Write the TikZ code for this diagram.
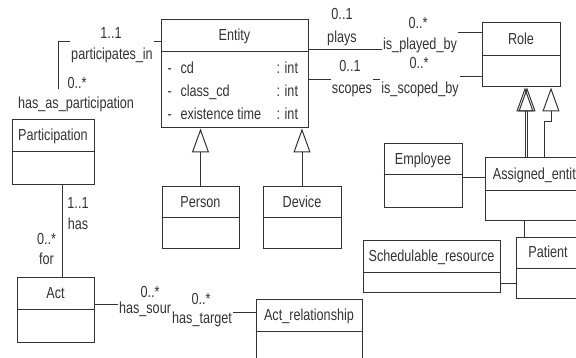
\documentclass[tikz,border=0pt]{standalone}
\usepackage{fontspec}
\setmainfont{Liberation Sans}[FakeStretch=0.79]
\usetikzlibrary{arrows.meta}

\begin{document}
\begin{tikzpicture}[x=1pt, y=-1pt, color=black!80, line width=1pt,
    every node/.style={font=\fontsize{16}{18}\selectfont, text height=12pt, text depth=3.5pt},
    cls/.style={draw, inner sep=0pt},
    title/.style={inner sep=0pt},
    attr/.style={anchor=west, inner sep=0pt},
    mult/.style={inner sep=1pt},
    rolename/.style={fill=white, inner xsep=1pt, inner ysep=7pt},
    gen/.style={-{Triangle[open, length=24pt, width=17pt]}}]
    \useasboundingbox (0,0) rectangle (576,358);
    \clip (0,0) rectangle (576,358);

    % Classes
    \node[cls, minimum width=147, minimum height=108] (entity) at (234.5,74) {};
    \node[cls, minimum width=82, minimum height=65] (participation) at (53,152.5) {};
    \node[cls, minimum width=77, minimum height=62] (person) at (200.5,218) {};
    \node[cls, minimum width=78, minimum height=62] (device) at (302,218) {};
    \node[cls, minimum width=77, minimum height=64] (act) at (55.5,310) {};
    \node[cls, minimum width=106, minimum height=66] (actrel) at (309,333) {};
    \node[cls, minimum width=78, minimum height=64] (role) at (521,55) {};
    \node[cls, minimum width=78, minimum height=64] (employee) at (423,176) {};
    \node[cls, minimum width=105, minimum height=63] (assigned) at (537.5,189.5) {};
    \node[cls, minimum width=64, minimum height=61] (patient) at (548,268.5) {};
    \node[cls, minimum width=137, minimum height=52] (schedres) at (431.5,267) {};

    % Dividers
    \draw ([yshift=-32]entity.north west) -- ([yshift=-32]entity.north east);
    \draw ([yshift=-32]participation.north west) -- ([yshift=-32]participation.north east);
    \draw ([yshift=-31]person.north west) -- ([yshift=-31]person.north east);
    \draw ([yshift=-31]device.north west) -- ([yshift=-31]device.north east);
    \draw ([yshift=-32]act.north west) -- ([yshift=-32]act.north east);
    \draw ([yshift=-32]actrel.north west) -- ([yshift=-32]actrel.north east);
    \draw ([yshift=-33]role.north west) -- ([yshift=-33]role.north east);
    \draw ([yshift=-31]employee.north west) -- ([yshift=-31]employee.north east);
    \draw ([yshift=-33]assigned.north west) -- ([yshift=-33]assigned.north east);
    \draw ([yshift=-31]patient.north west) -- ([yshift=-31]patient.north east);
    \draw ([yshift=-32]schedres.north west) -- ([yshift=-32]schedres.north east);

    % Titles
    \node[title] (entitytitle) at ([yshift=-17]entity.north) {Entity};
    \node[title] (participationtitle) at ([yshift=-17]participation.north) {Participation};
    \node[title] (persontitle) at ([yshift=-16.5]person.north) {Person};
    \node[title] (devicetitle) at ([yshift=-16.5]device.north) {Device};
    \node[title] (acttitle) at ([yshift=-17]act.north) {Act};
    \node[title] (actreltitle) at ([yshift=-17]actrel.north) {Act\_relationship};
    \node[title] (roletitle) at ([yshift=-17.5]role.north) {Role};
    \node[title] (employeetitle) at ([yshift=-16.5]employee.north) {Employee};
    \node[title] (assignedtitle) at ([yshift=-17.5]assigned.north) {Assigned\_entity};
    \node[title] (patienttitle) at ([yshift=-15.5]patient.north) {Patient};
    \node[title] (schedrestitle) at ([yshift=-17]schedres.north) {Schedulable\_resource};

    % Attributes
    \node[attr] (cdsign) at (167,69) {-};
    \node[attr] (cd) at (180,69) {cd};
    \node[attr] (cdtype) at (276,69) {: int};
    \node[attr] (classcdsign) at (167,92) {-};
    \node[attr] (classcd) at (180,92) {class\_cd};
    \node[attr] (classcdtype) at (276,92) {: int};
    \node[attr] (timesign) at (167,115) {-};
    \node[attr] (time) at (180,115) {existence time};
    \node[attr] (timetype) at (276,115) {: int};

    % Associations
    \draw ([xshift=5]participation.north) |- ([yshift=32]entity.west);
    \draw ([yshift=24]entity.east) -- ++(112,0) -- ++(0,-17) -- ([yshift=22]role.west);
    \draw ([yshift=-6]entity.east) -- ++(112,0) -- ++(0,-3) -- ([yshift=-22]role.west);
    \draw ([xshift=9]participation.south) -- ([xshift=9]participation.south |- act.north);
    \draw ([yshift=5]act.east) -- ++(81,0) -- ++(0,8) -- ([yshift=20]actrel.west);
    \draw ([yshift=-2]employee.east) -- ([yshift=-2]employee.east -| assigned.west);
    \draw ([xshift=-13.5]assigned.south) -- ([xshift=-13.5]assigned.south |- patient.north);
    \draw ([yshift=-17]schedres.east) -- ([yshift=-17]schedres.east -| patient.west);

    % Generalizations
    \draw[gen] (person.north) -- (person.north |- entity.south);
    \draw[gen] (device.north) -- (device.north |- entity.south);
    \draw[gen] ([xshift=-12.5]assigned.north) -- ([xshift=-12.5]assigned.north |- role.south);
    \draw[gen] ([xshift=-10.5]assigned.north) -- ([xshift=-10.5]assigned.north |- role.south);
    \draw[gen] ([xshift=6.5]assigned.north) -- ++(0,-36) -- ++(7,0) -- ([xshift=30]role.south);

    % Role names
    \node[rolename] (participatesin) at (112,55.5) {participates\_in};
    \node[rolename] (hasasparticipation) at (76,104) {has\_as\_participation};
    \node[rolename] (isplayedby) at (420,45) {is\_played\_by};
    \node[rolename] (scopes) at (352,89) {scopes};
    \node[rolename] (isscopedby) at (420,89) {is\_scoped\_by};
    \node[rolename] (hassour) at (145,309.5) {has\_sour};
    \node[rolename] (hastarget) at (202,319) {has\_target};
    \node[mult] (plays) at (342,38) {plays};
    \node[mult] (has) at (78,225) {has};
    \node[mult] (for) at (46.5,260) {for};

    % Multiplicities
    \node[mult] (participatesmult) at (111,34) {1..1};
    \node[mult] (hasasmult) at (77,84) {0..*};
    \node[mult] (playsmult) at (342,15) {0..1};
    \node[mult] (isplayedmult) at (418,24) {0..*};
    \node[mult] (scopesmult) at (350,67) {0..1};
    \node[mult] (isscopedmult) at (419,64) {0..*};
    \node[mult] (hasmult) at (78,204) {1..1};
    \node[mult] (formult) at (46.5,240) {0..*};
    \node[mult] (hassourmult) at (150,293) {0..*};
    \node[mult] (hastargetmult) at (201,300) {0..*};
\end{tikzpicture}
\end{document}
